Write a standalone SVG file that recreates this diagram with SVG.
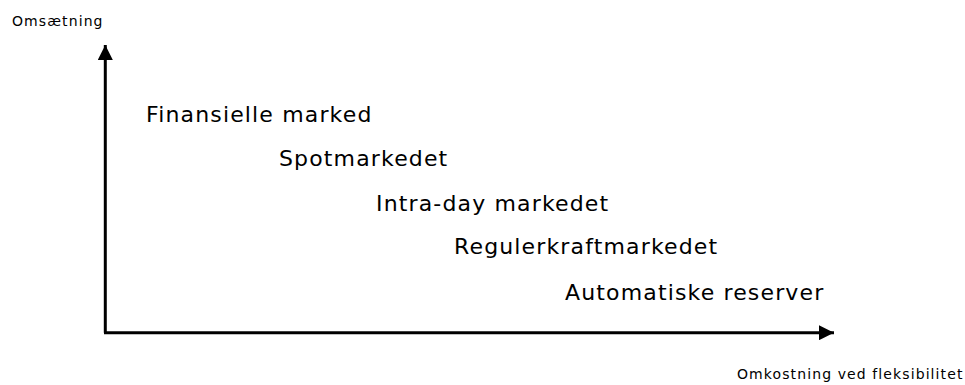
<svg xmlns="http://www.w3.org/2000/svg" width="965" height="385" viewBox="0 0 965 385">
  <style>
    .axis-title { font-family: "DejaVu Sans", Verdana, sans-serif; font-size: 14px; letter-spacing: 1.1px; fill: #000; }
    .market { font-family: "DejaVu Sans", Verdana, sans-serif; font-size: 22px; letter-spacing: 1.15px; fill: #000; }
    .axis { stroke: #000; stroke-width: 3; fill: none; }
  </style>
  <defs>
    <marker id="arrow" viewBox="0 0 10 10" refX="10" refY="5" markerWidth="5" markerHeight="5" markerUnits="strokeWidth" orient="auto">
      <path d="M0,0 L10,5 L0,10 z" fill="#000"/>
    </marker>
  </defs>
  <rect width="965" height="385" fill="#fff"/>
  <g id="connectors">
    <path class="axis" d="M105.3,332.7 L105.3,45" marker-end="url(#arrow)"/>
    <path class="axis" d="M104,332.7 L834,332.7" marker-end="url(#arrow)"/>
  </g>
  <g id="axis-y-label"><text class="axis-title" x="12" y="26">Omsætning</text></g>
  <g id="axis-x-label"><text class="axis-title" x="737" y="379">Omkostning ved fleksibilitet</text></g>
  <g id="finansielle"><text class="market" x="146" y="122">Finansielle marked</text></g>
  <g id="spot"><text class="market" x="279" y="166">Spotmarkedet</text></g>
  <g id="intraday"><text class="market" x="376" y="211">Intra-day markedet</text></g>
  <g id="regulerkraft"><text class="market" x="454" y="254">Regulerkraftmarkedet</text></g>
  <g id="automatiske"><text class="market" x="565" y="300">Automatiske reserver</text></g>
</svg>
